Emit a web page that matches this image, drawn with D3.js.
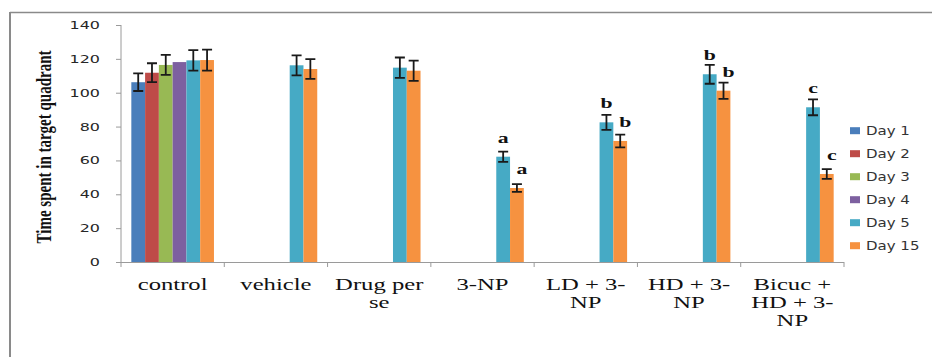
<!DOCTYPE html>
<html>
<head>
<meta charset="utf-8">
<script src="https://cdn.jsdelivr.net/npm/d3@7"></script>
<style>
html,body{margin:0;padding:0;background:#fff;}
svg{display:block;}
</style>
</head>
<body>
<svg id="chart" width="932" height="357"></svg>
<script>
// ---- data ----
const categories = ["control", "vehicle", "Drug per se", "3-NP", "LD + 3-NP", "HD + 3-NP", "Bicuc + HD + 3-NP"];
const categoryLines = [["control"], ["vehicle"], ["Drug per", "se"], ["3-NP"], ["LD + 3-", "NP"], ["HD + 3-", "NP"], ["Bicuc +", "HD + 3-", "NP"]];
const seriesNames = ["Day 1", "Day 2", "Day 3", "Day 4", "Day 5", "Day 15"];
const day1  = [106.2, null, null, null, null, null, null];
const day2  = [111.8, null, null, null, null, null, null];
const day3  = [116.4, null, null, null, null, null, null];
const day4  = [118.1, null, null, null, null, null, null];
const day5  = [119.1, 116.2, 114.8, 62.2, 82.5, 110.9, 91.4];
const day15 = [119.3, 114.0, 113.0, 43.7, 71.5, 101.2, 52.0];
const err1  = [5.2, null, null, null, null, null, null];
const err2  = [5.6, null, null, null, null, null, null];
const err3  = [5.9, null, null, null, null, null, null];
const err4  = [null, null, null, null, null, null, null];
const err5  = [6.0, 5.9, 6.0, 3.0, 4.4, 5.6, 4.7];
const err15 = [6.2, 5.8, 6.0, 2.3, 3.8, 4.8, 2.9];
const sigDay5  = ["", "", "", "a", "b", "b", "c"];
const sigDay15 = ["", "", "", "a", "b", "b", "c"];
const yTicks = [0, 20, 40, 60, 80, 100, 120, 140];
const yTitle = "Time spent in target quadrant";
const colors = ["#4A7EBB", "#BE4B48", "#98B954", "#7D60A0", "#46AAC5", "#F69240"];

const values = [day1, day2, day3, day4, day5, day15];
const errors = [err1, err2, err3, err4, err5, err15];
const sigs = [null, null, null, null, sigDay5, sigDay15];

// ---- layout ----
const SX = 1.45; // horizontal stretch of the original picture
const pLeft = 121, pRight = 844, pTop = 25, pBottom = 262;
const svg = d3.select("#chart");

// frame
svg.append("line").attr("x1", 10).attr("x2", 932).attr("y1", 12.5).attr("y2", 12.5)
  .attr("stroke", "#8a8a8a").attr("stroke-width", 1.5);
svg.append("line").attr("x1", 10).attr("x2", 10).attr("y1", 12).attr("y2", 357)
  .attr("stroke", "#8a8a8a").attr("stroke-width", 2);

const y = d3.scaleLinear().domain([0, 140]).range([pBottom, pTop]);
const x0 = d3.scaleBand().domain(categories).range([pLeft, pRight]).padding(0);
const bw = x0.bandwidth();
const x1 = d3.scaleBand().domain(seriesNames).range([bw * 0.1, bw * 0.9]).padding(0);

// y axis
const yAxis = d3.axisLeft(y).tickValues(yTicks).tickSize(5).tickPadding(0).tickFormat(() => "");
const gy = svg.append("g").attr("transform", `translate(${pLeft},0)`).call(yAxis);
gy.select(".domain").attr("stroke", "#9a9a9a").attr("d", `M0,${pTop}V${pBottom}`);
gy.selectAll(".tick line").attr("stroke", "#9a9a9a");
svg.append("g").selectAll("text").data(yTicks).join("text")
  .attr("transform", d => `translate(100,${y(d) + 4}) scale(${SX},1)`)
  .attr("text-anchor", "end")
  .attr("font-family", "DejaVu Sans")
  .attr("font-size", 11)
  .attr("fill", "#262626")
  .text(d => d);

// x axis
const boundaries = d3.range(categories.length + 1).map(i => pLeft + i * bw);
svg.append("line").attr("x1", pLeft - 5).attr("x2", pRight).attr("y1", pBottom + 0.5).attr("y2", pBottom + 0.5)
  .attr("stroke", "#9a9a9a").attr("stroke-width", 1);
svg.append("g").selectAll("line").data(boundaries).join("line")
  .attr("x1", d => d).attr("x2", d => d).attr("y1", pBottom).attr("y2", pBottom + 5)
  .attr("stroke", "#9a9a9a");

// category labels
const catG = svg.append("g").selectAll("g").data(categories).join("g");
catG.each(function(c, i) {
  const cx = x0(c) + bw / 2;
  d3.select(this).selectAll("text").data(categoryLines[i]).join("text")
    .attr("transform", (t, j) => `translate(${cx},${290 + j * 17.8}) scale(${SX},1)`)
    .attr("text-anchor", "middle")
    .attr("font-family", "Liberation Serif")
    .attr("font-size", 17)
    .attr("fill", "#111")
    .text(t => t);
});

// bars
const barsG = svg.append("g");
seriesNames.forEach((s, si) => {
  const data = categories.map((c, ci) => ({c, v: values[si][ci]})).filter(d => d.v != null);
  barsG.append("g").selectAll("rect").data(data).join("rect")
    .attr("x", d => x0(d.c) + x1(s))
    .attr("y", d => y(d.v))
    .attr("width", x1.bandwidth())
    .attr("height", d => y(0) - y(d.v))
    .attr("fill", colors[si]);
});

// error bars and significance labels (drawn on top)
const errG = svg.append("g");
seriesNames.forEach((s, si) => {
  const data = categories.map((c, ci) => ({c, v: values[si][ci], e: errors[si][ci], sig: sigs[si] ? sigs[si][ci] : ""}))
    .filter(d => d.v != null);
  data.filter(d => d.e != null).forEach(d => {
    const cx = x0(d.c) + x1(s) + x1.bandwidth() / 2;
    const y1 = y(d.v + d.e), y2 = y(d.v - d.e);
    errG.append("path")
      .attr("d", `M${cx},${y1}V${y2}M${cx - 5},${y1}H${cx + 5}M${cx - 5},${y2}H${cx + 5}`)
      .attr("stroke", "#1a1a1a").attr("stroke-width", 1.8).attr("fill", "none");
  });
  data.filter(d => d.sig).forEach(d => {
    const cx = x0(d.c) + x1(s) + x1.bandwidth() / 2 + (si === 5 ? 5 : 0);
    errG.append("text")
      .attr("transform", `translate(${cx},${y(d.v) - 14}) scale(${SX},1)`)
      .attr("text-anchor", "middle")
      .attr("font-family", "Liberation Serif")
      .attr("font-weight", "bold")
      .attr("font-size", 15)
      .attr("fill", "#111")
      .text(d.sig);
  });
});

// y title
svg.append("text")
  .attr("transform", `translate(51,147) scale(${SX},1) rotate(-90)`)
  .attr("text-anchor", "middle")
  .attr("font-family", "Liberation Serif")
  .attr("font-weight", "bold")
  .attr("font-size", 15)
  .attr("fill", "#111")
  .text(yTitle);

// legend
const leg = svg.append("g").selectAll("g").data(seriesNames).join("g")
  .attr("transform", (d, i) => `translate(850,${130.7 + i * 23})`);
leg.append("rect").attr("x", 0).attr("y", -3.5).attr("width", 10).attr("height", 7)
  .attr("fill", (d, i) => colors[i]);
leg.append("text")
  .attr("transform", `translate(16,4.5) scale(1.25,1)`)
  .attr("font-family", "DejaVu Sans")
  .attr("font-size", 12)
  .attr("fill", "#333")
  .text(d => d);
</script>
</body>
</html>
